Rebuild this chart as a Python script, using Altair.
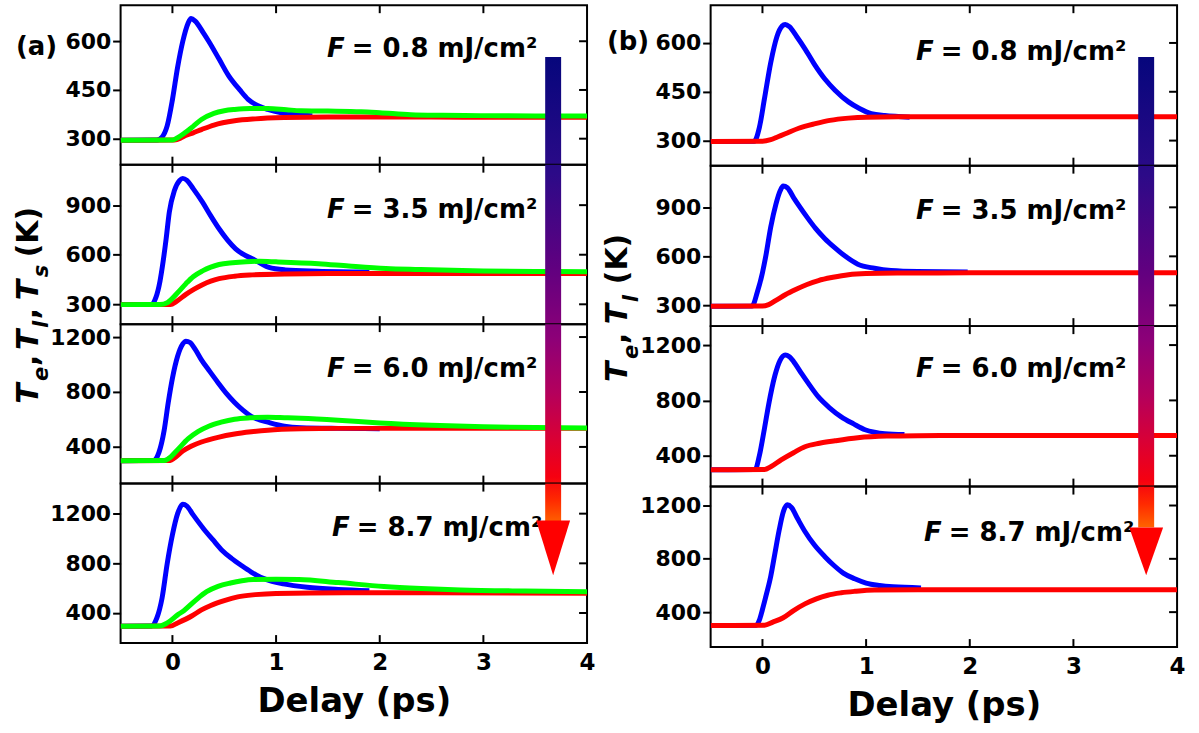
import altair as alt
import pandas as pd

FONT = "DejaVu Sans"
DELAY_DOMAIN = [-0.5, 4]
DELAY_LABELS = [0, 1, 2, 3, 4]
INNER_TICKS = [0, 1, 2, 3]
FLUENCES = ["0.8", "3.5", "6.0", "8.7"]

BLUE, RED, GREEN = "#0000ff", "#ff0000", "#00ff00"

# ---- (a) electron (Te), lattice (Tl) and spin (Ts) temperatures: (delay ps, K)
A_TE_08 = [(-0.5, 295), (-0.15, 296), (-0.1, 305), (-0.05, 340), (0.0, 420), (0.05, 520), (0.1, 600),
           (0.15, 655), (0.18, 670), (0.22, 662), (0.3, 625), (0.35, 600), (0.45, 545), (0.54, 495),
           (0.65, 450), (0.73, 421), (0.82, 402), (0.92, 390), (1.05, 380), (1.2, 374), (1.35, 371)]
A_TL_08 = [(-0.5, 295), (0.02, 296), (0.08, 302), (0.12, 309), (0.2, 318), (0.28, 328), (0.4, 342),
           (0.6, 355), (0.8, 361), (1.08, 365), (1.5, 367), (2.0, 367), (3.0, 366), (4.0, 366)]
A_TS_08 = [(-0.5, 295), (0.0, 296), (0.05, 303), (0.12, 318), (0.2, 338), (0.28, 359), (0.4, 378),
           (0.5, 386), (0.6, 390), (0.75, 393), (0.92, 393), (1.1, 389), (1.24, 386), (1.5, 385),
           (1.82, 383), (2.0, 380), (2.3, 374), (2.6, 372), (2.97, 371), (3.5, 370), (4.0, 370)]

A_TE_35 = [(-0.5, 298), (-0.2, 300), (-0.16, 340), (-0.12, 440), (-0.09, 558), (-0.06, 700),
           (-0.03, 858), (0.02, 990), (0.07, 1050), (0.1, 1062), (0.14, 1050), (0.2, 1000),
           (0.29, 918), (0.37, 835), (0.45, 757), (0.53, 690), (0.61, 636), (0.69, 600), (0.77, 576),
           (0.85, 548), (0.93, 523), (1.09, 508), (1.4, 500), (1.9, 495)]
A_TL_35 = [(-0.5, 298), (-0.02, 299), (0.04, 318), (0.13, 360), (0.21, 392), (0.29, 419), (0.37, 440),
           (0.45, 455), (0.6, 470), (0.77, 478), (1.09, 484), (1.5, 486), (2.5, 487), (4.0, 487)]
A_TS_35 = [(-0.5, 298), (-0.12, 299), (-0.05, 310), (0.05, 370), (0.13, 425), (0.2, 467), (0.29, 502),
           (0.37, 525), (0.45, 541), (0.58, 552), (0.71, 558), (0.84, 560), (1.0, 557), (1.41, 546),
           (1.7, 532), (2.06, 517), (2.38, 511), (3.0, 502), (3.5, 499), (4.0, 497)]

A_TE_60 = [(-0.5, 300), (-0.18, 301), (-0.13, 360), (-0.08, 520), (-0.04, 724), (0.0, 900),
           (0.05, 1060), (0.1, 1150), (0.13, 1170), (0.17, 1160), (0.22, 1110), (0.28, 1034),
           (0.36, 950), (0.44, 868), (0.52, 790), (0.6, 724), (0.68, 668), (0.76, 623), (0.84, 597),
           (0.92, 580), (1.08, 551), (1.24, 540), (1.6, 535), (2.0, 533)]
A_TL_60 = [(-0.5, 300), (-0.02, 302), (0.02, 320), (0.1, 370), (0.18, 405), (0.28, 436), (0.44, 470),
           (0.6, 494), (0.76, 510), (0.92, 522), (1.24, 532), (1.6, 535), (2.0, 535), (4.0, 535)]
A_TS_60 = [(-0.5, 300), (-0.08, 301), (-0.04, 314), (0.05, 380), (0.15, 458), (0.25, 513), (0.35, 551),
           (0.47, 580), (0.6, 602), (0.75, 612), (0.92, 616), (1.08, 613), (1.24, 609), (1.6, 595),
           (2.0, 575), (2.5, 558), (3.0, 547), (3.5, 541), (4.0, 538)]

A_TE_87 = [(-0.5, 294), (-0.2, 296), (-0.15, 360), (-0.1, 520), (-0.05, 800), (0.0, 1030),
           (0.05, 1200), (0.1, 1275), (0.14, 1260), (0.2, 1190), (0.3, 1079), (0.39, 990), (0.48, 904),
           (0.57, 840), (0.67, 780), (0.76, 730), (0.85, 687), (0.96, 655), (1.07, 635), (1.3, 608),
           (1.6, 590), (1.9, 580)]
A_TL_87 = [(-0.5, 294), (-0.02, 295), (0.05, 320), (0.19, 378), (0.28, 425), (0.37, 461), (0.5, 500),
           (0.63, 530), (0.8, 548), (1.0, 558), (1.67, 564), (2.5, 563), (4.0, 560)]
A_TS_87 = [(-0.5, 294), (-0.12, 296), (-0.05, 320), (0.05, 385), (0.11, 419), (0.22, 500), (0.33, 572),
           (0.44, 615), (0.56, 642), (0.67, 660), (0.78, 670), (1.0, 672), (1.22, 670), (1.6, 645),
           (2.04, 614), (2.4, 598), (2.78, 586), (3.4, 577), (4.0, 572)]

# ---- (b) electron (Te) and lattice (Tl) temperatures
B_TE_08 = [(-0.5, 297), (-0.08, 298), (-0.03, 340), (0.02, 430), (0.08, 540), (0.14, 620), (0.19, 652),
           (0.22, 657), (0.26, 650), (0.33, 620), (0.41, 582), (0.5, 535), (0.6, 490), (0.7, 455),
           (0.83, 419), (0.94, 398), (1.05, 383), (1.18, 377), (1.31, 374), (1.42, 372)]
B_TL_08 = [(-0.5, 297), (0.0, 298), (0.08, 303), (0.15, 312), (0.22, 321), (0.35, 338), (0.51, 352),
           (0.65, 362), (0.83, 369), (1.0, 372), (1.31, 373), (2.0, 373), (4.0, 373)]

B_TE_35 = [(-0.5, 294), (-0.1, 296), (-0.05, 380), (0.0, 500), (0.03, 594), (0.08, 780), (0.13, 920),
           (0.17, 1000), (0.2, 1030), (0.24, 1020), (0.3, 960), (0.35, 912), (0.43, 840), (0.51, 773),
           (0.6, 710), (0.7, 652), (0.8, 600), (0.92, 552), (1.08, 527), (1.24, 513), (1.5, 507),
           (1.98, 505)]
B_TL_35 = [(-0.5, 294), (0.0, 296), (0.06, 305), (0.13, 330), (0.22, 365), (0.32, 397), (0.43, 428),
           (0.54, 452), (0.68, 472), (0.83, 488), (1.0, 495), (1.3, 498), (2.0, 499), (4.0, 499)]

B_TE_60 = [(-0.5, 299), (-0.07, 301), (-0.03, 400), (0.02, 600), (0.06, 771), (0.12, 980), (0.17, 1090),
           (0.22, 1128), (0.26, 1115), (0.32, 1060), (0.38, 991), (0.46, 905), (0.54, 825), (0.65, 745),
           (0.76, 681), (0.88, 630), (0.99, 588), (1.08, 570), (1.18, 559), (1.37, 553)]
B_TL_60 = [(-0.5, 299), (0.02, 300), (0.08, 320), (0.18, 370), (0.3, 422), (0.41, 465), (0.55, 490),
           (0.7, 508), (0.92, 530), (1.2, 542), (1.5, 545), (2.0, 546), (4.0, 546)]

B_TE_87 = [(-0.5, 300), (-0.06, 302), (-0.03, 340), (0.0, 420), (0.04, 540), (0.08, 670), (0.12, 840),
           (0.16, 1010), (0.2, 1150), (0.24, 1205), (0.28, 1185), (0.34, 1100), (0.41, 1005), (0.5, 905),
           (0.6, 818), (0.69, 750), (0.78, 693), (0.89, 650), (1.0, 618), (1.13, 600), (1.26, 590),
           (1.53, 582)]
B_TL_87 = [(-0.5, 300), (0.02, 302), (0.1, 325), (0.2, 358), (0.3, 412), (0.41, 462), (0.52, 500),
           (0.63, 527), (0.76, 545), (0.89, 556), (1.08, 566), (1.5, 568), (2.0, 568), (4.0, 568)]

# y ranges and tick values of the four stacked panels
A_Y_DOMAINS = [[220, 711], [180, 1145], [133, 1294], [158, 1442]]
B_Y_DOMAINS = [[223, 716], [173, 1155], [177, 1337], [138, 1342]]
Y_TICKS = [[300, 450, 600], [300, 600, 900], [400, 800, 1200], [400, 800, 1200]]

# fluence arrow colours along its length (fraction, colour)
ARROW_STOPS = [(0.0, "#06067c"), (0.25, "#2c0a88"), (0.45, "#600080"), (0.6, "#8c0078"),
               (0.72, "#b4005c"), (0.82, "#da0034"), (0.9, "#f60010"), (0.95, "#ff2a00"),
               (1.0, "#ff6400")]

W = 468


def hex_rgb(c):
    return tuple(int(c[i:i + 2], 16) for i in (1, 3, 5))


def color_at(f):
    for (f0, c0), (f1, c1) in zip(ARROW_STOPS[:-1], ARROW_STOPS[1:]):
        if f0 <= f <= f1:
            k = 0 if f1 == f0 else (f - f0) / (f1 - f0)
            a, b = hex_rgb(c0), hex_rgb(c1)
            return "#" + "".join(f"{round(x + (y - x) * k):02x}" for x, y in zip(a, b))
    return ARROW_STOPS[-1][1]


def gradient(f0, f1):
    stops = [(0.0, color_at(f0))]
    for off, c in ARROW_STOPS:
        if f0 < off < f1:
            stops.append(((off - f0) / (f1 - f0), c))
    stops.append((1.0, color_at(f1)))
    return alt.LinearGradient(gradient="linear", x1=0, x2=0, y1=0, y2=1,
                              stops=[alt.GradientStop(color=c, offset=o) for o, c in stops])


def label(text, x, y, size, italic=False, align="left", angle=0, baseline="middle"):
    kw = dict(font=FONT, fontSize=size, fontWeight="bold", align=align, baseline=baseline,
              color="black")
    if italic:
        kw["fontStyle"] = "italic"
    if angle:
        kw["angle"] = angle
    return alt.Chart(pd.DataFrame({"s": [text]})).mark_text(**kw).encode(
        text="s:N", x=alt.value(x), y=alt.value(y))


def vertical_title(pieces, x_base, x_sub):
    """Rotated axis title built from italic T's, lowered subscripts and plain text.
    Each piece: (text, kind, start y), kind in 'T', 'sub', 'txt'."""
    out = []
    for text, kind, y in pieces:
        if kind == "T":
            out.append(label(text, x_base, y, 30, italic=True, angle=270, baseline="alphabetic"))
        elif kind == "sub":
            out.append(label(text, x_sub, y, 21, italic=True, angle=270, baseline="alphabetic"))
        else:
            out.append(label(text, x_base, y, 30, angle=270, baseline="alphabetic"))
    return out


def panel(curves, y_domain, y_ticks, fluence, h, idx, arrow, extras, f_pos):
    bottom = idx == 3
    x_axis = alt.Axis(values=DELAY_LABELS, format="d", labelFont=FONT, labelFontSize=23,
                      labelFontWeight="bold", labelColor="black", labelFlush=False, ticks=False,
                      domain=False, grid=False, labelPadding=9, title="Delay (ps)", titleFont=FONT,
                      titleFontSize=34, titleFontWeight="bold", titleColor="black",
                      titlePadding=10) if bottom else None
    y_axis = alt.Axis(values=y_ticks, format="d", labelFont=FONT, labelFontSize=22,
                      labelFontWeight="bold", labelColor="black", labelFlush=False, tickSize=8,
                      tickWidth=2, tickColor="black", domain=False, grid=False, labelPadding=2,
                      title=None)
    x_enc = alt.X("t:Q", scale=alt.Scale(domain=DELAY_DOMAIN, nice=False, zero=False), axis=x_axis)
    y_enc = alt.Y("T:Q", scale=alt.Scale(domain=y_domain, nice=False, zero=False), axis=y_axis)

    layers = []
    for pts, color in curves:
        df = pd.DataFrame(pts, columns=["t", "T"])
        layers.append(alt.Chart(df).mark_line(color=color, strokeWidth=5, interpolate="monotone",
                                              clip=True).encode(x=x_enc, y=y_enc))

    # inward ticks on the top, bottom and right frame
    xt = pd.DataFrame({"t": INNER_TICKS})
    for y0, y1 in ((0, 8), (h - 8, h)):
        layers.append(alt.Chart(xt).mark_rule(color="black", strokeWidth=2).encode(
            x=x_enc, y=alt.value(y0), y2=alt.value(y1)))
    yt = pd.DataFrame({"T": y_ticks})
    layers.append(alt.Chart(yt).mark_rule(color="black", strokeWidth=2).encode(
        y=y_enc, x=alt.value(W - 8), x2=alt.value(W)))

    # fluence label
    fx, fy = f_pos
    layers.append(label("F", fx, fy, 26, italic=True))
    layers.append(label(f"= {fluence} mJ/cm²", fx + 25, fy, 26))

    # segment of the fluence arrow that falls inside this panel
    cx, top, end, head_top, tip = arrow
    seg0, seg1 = max(top, idx * h), min(end, (idx + 1) * h)
    if seg0 < seg1:
        g = gradient((seg0 - top) / (end - top), (seg1 - top) / (end - top))
        layers.append(alt.Chart(pd.DataFrame({"s": [0]})).mark_rect(color=g).encode(
            x=alt.value(cx - 8), x2=alt.value(cx + 8),
            y=alt.value(seg0 - idx * h), y2=alt.value(seg1 - idx * h)))
    if bottom:
        half = (tip - head_top) / 2
        layers.append(alt.Chart(pd.DataFrame({"s": [0]})).mark_point(
            shape=f"M-1,-{half / 17:.3f}L1,-{half / 17:.3f}L0,{half / 17:.3f}Z",
            size=34 * 34, filled=True, color=RED, opacity=1, strokeWidth=0).encode(
            x=alt.value(cx), y=alt.value((head_top + tip) / 2 - idx * h)))

    layers.extend(extras)
    return alt.layer(*layers).properties(width=W, height=h)


# ---- column (a)
HA = 160
A_CURVES = [
    [(A_TE_08, BLUE), (A_TL_08, RED), (A_TS_08, GREEN)],
    [(A_TE_35, BLUE), (A_TL_35, RED), (A_TS_35, GREEN)],
    [(A_TE_60, BLUE), (A_TL_60, RED), (A_TS_60, GREEN)],
    [(A_TE_87, BLUE), (A_TL_87, RED), (A_TS_87, GREEN)],
]
A_FPOS = [(207, 44), (207, 46), (207, 45), (212, 45)]
A_ARROW = (434, 52, 520, 517, 572)
A_TITLE = [("T", "T", 400), ("e", "sub", 377), (",", "txt", 362),
           ("T", "T", 346), ("l", "sub", 324), (",", "txt", 315),
           ("T", "T", 296), ("s", "sub", 273), ("(K)", "txt", 253)]
A_EXTRAS = [
    [label("(a)", -105, 42, 26)] + vertical_title(A_TITLE, -83, -73),
    [], [], [],
]
col_a = alt.vconcat(*[
    panel(A_CURVES[i], A_Y_DOMAINS[i], Y_TICKS[i], FLUENCES[i], HA, i, A_ARROW, A_EXTRAS[i], A_FPOS[i])
    for i in range(4)], spacing=0, bounds="flush")

# ---- column (b)
HB = 161
B_CURVES = [
    [(B_TE_08, BLUE), (B_TL_08, RED)],
    [(B_TE_35, BLUE), (B_TL_35, RED)],
    [(B_TE_60, BLUE), (B_TL_60, RED)],
    [(B_TE_87, BLUE), (B_TL_87, RED)],
]
B_FPOS = [(206, 47), (206, 46), (206, 43), (214, 47)]
B_ARROW = (437, 52, 524, 524, 572)
B_TITLE = [("T", "T", 378), ("e", "sub", 355), (",", "txt", 340),
           ("T", "T", 320), ("l", "sub", 298), ("(K)", "txt", 280)]
B_EXTRAS = [
    [label("(b)", -104, 37, 26)] + vertical_title(B_TITLE, -84, -73),
    [], [], [],
]
col_b = alt.vconcat(*[
    panel(B_CURVES[i], B_Y_DOMAINS[i], Y_TICKS[i], FLUENCES[i], HB, i, B_ARROW, B_EXTRAS[i], B_FPOS[i])
    for i in range(4)], spacing=0, bounds="flush")

chart = alt.hconcat(col_a, col_b, spacing=5).properties(
    padding={"left": 13, "top": 2, "right": 12, "bottom": 2},
    background="white",
).configure_view(stroke="black", strokeWidth=2)

chart.save("out.html", embed_options={"renderer": "svg", "actions": False})
